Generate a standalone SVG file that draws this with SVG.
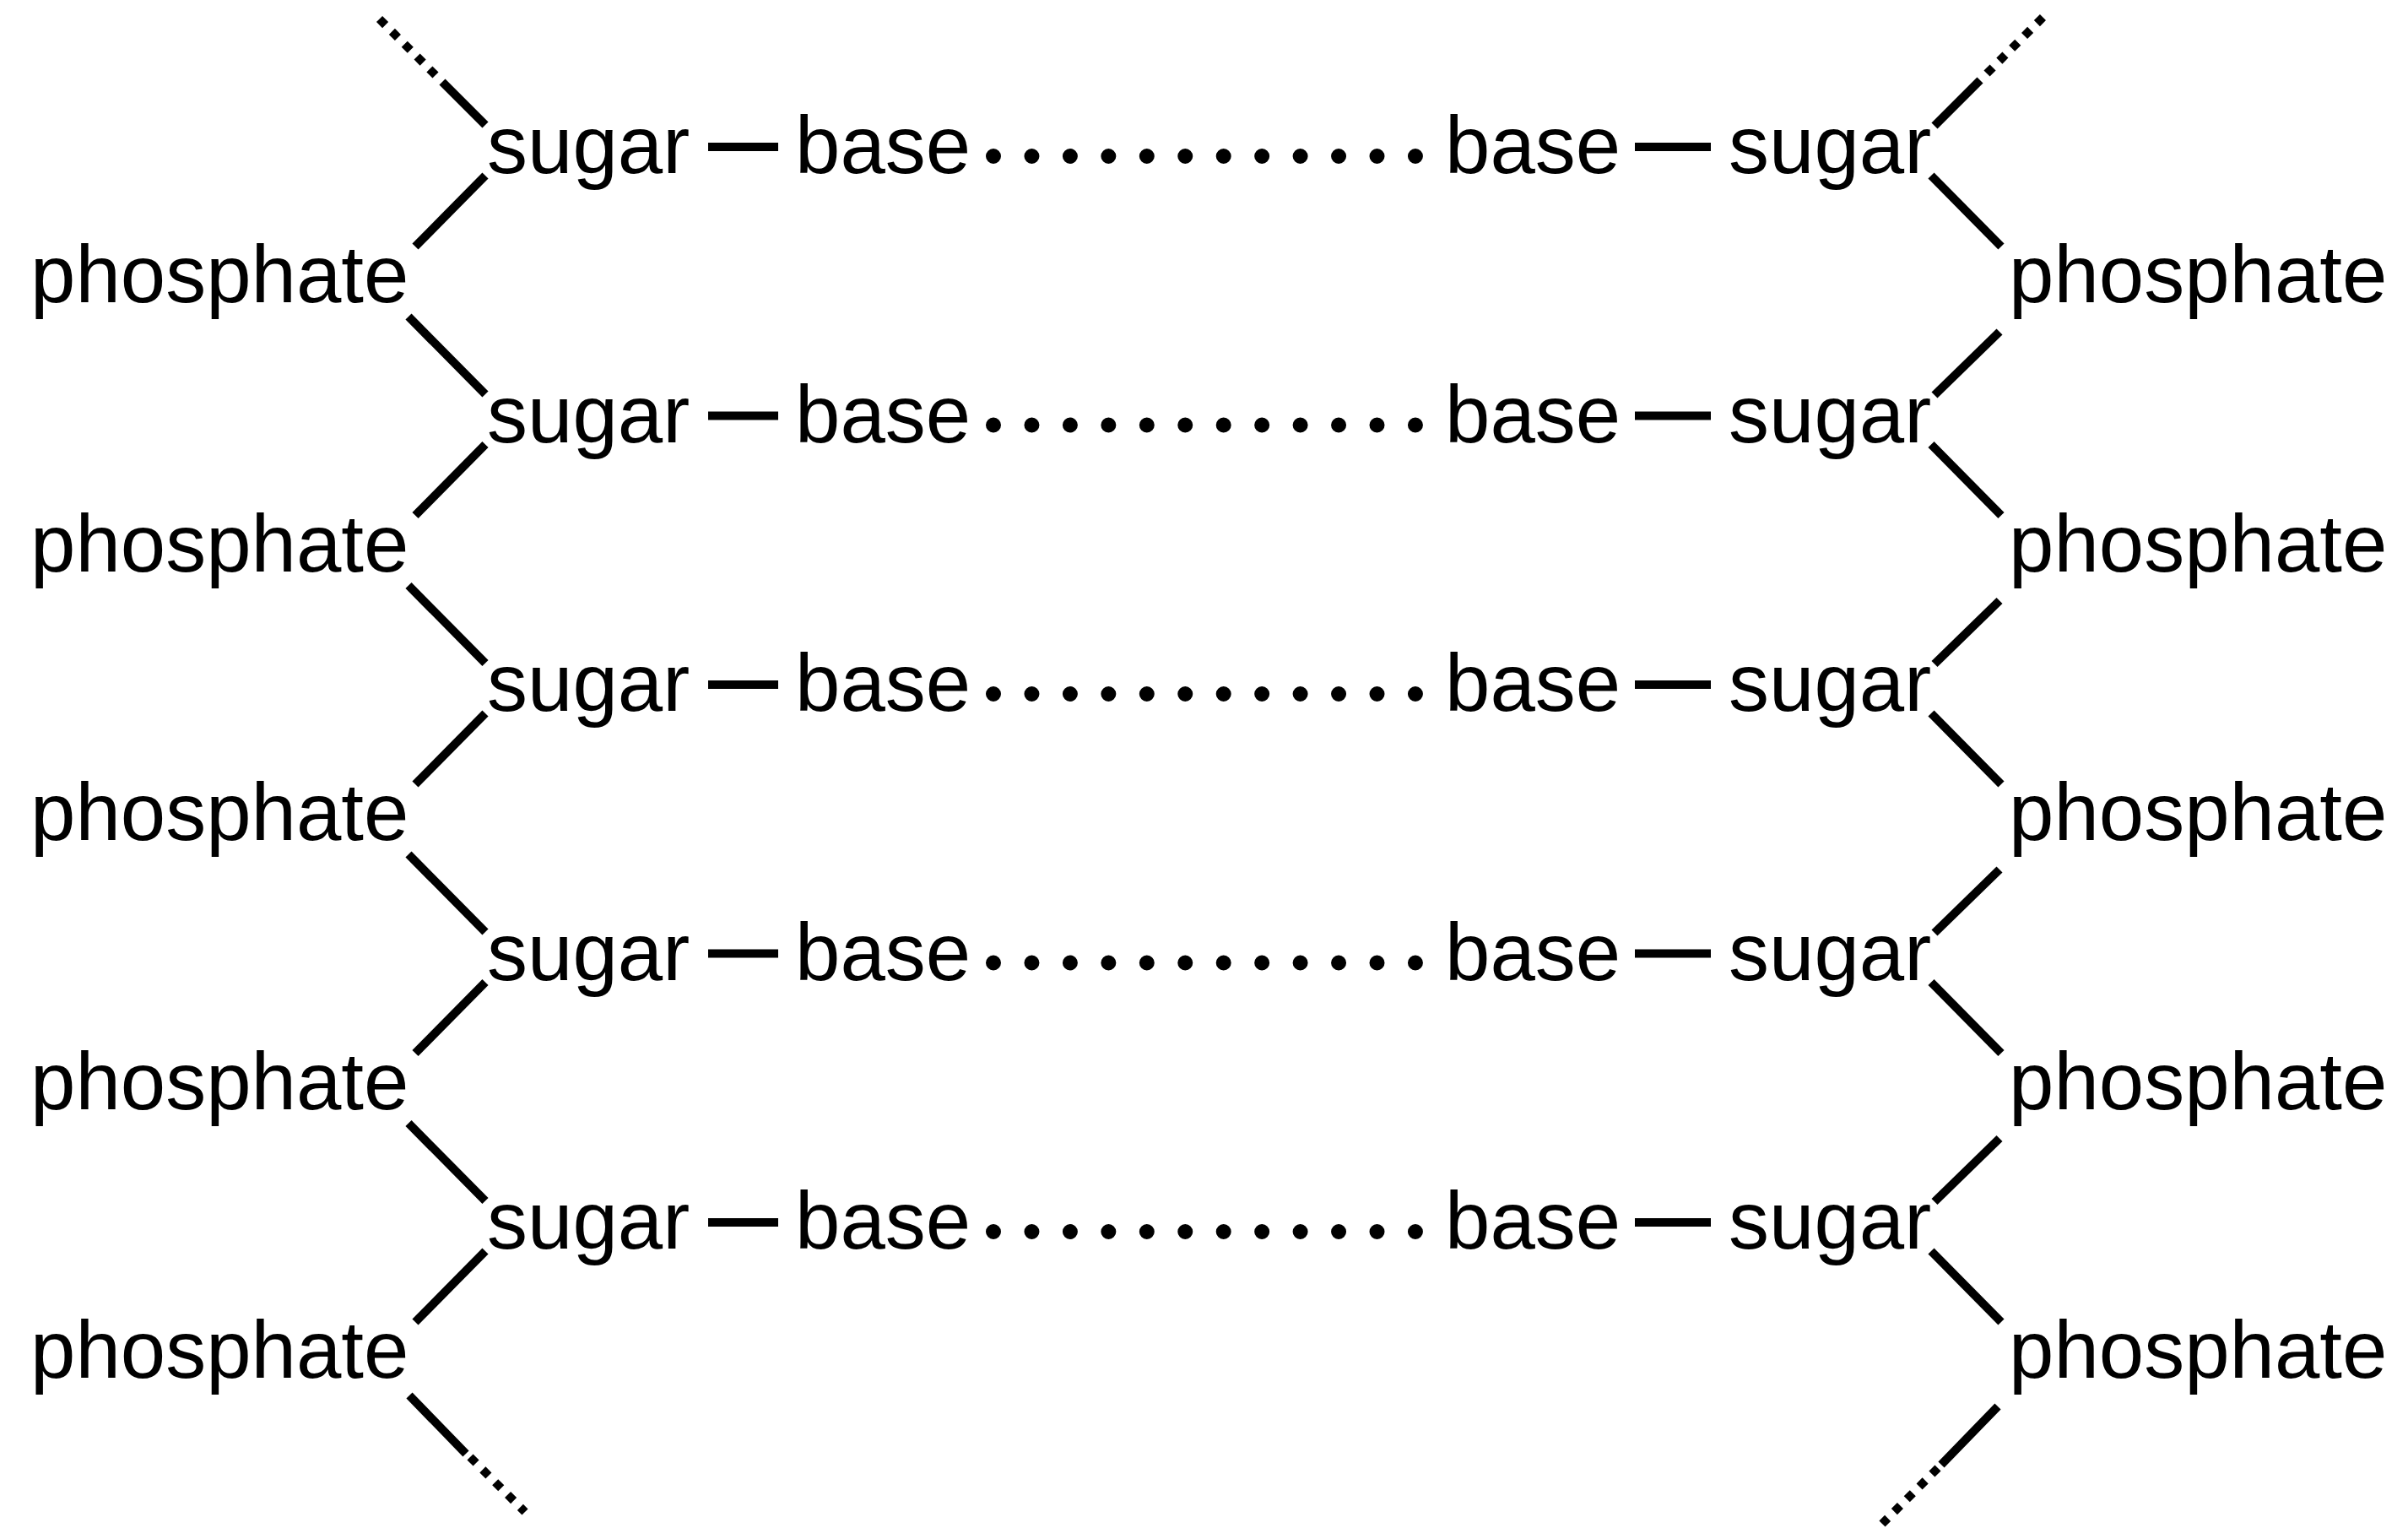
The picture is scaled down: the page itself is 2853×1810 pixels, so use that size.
<svg xmlns="http://www.w3.org/2000/svg" width="2853" height="1810" viewBox="0 0 2853 1810">
<style>
  .t { font-family: "Liberation Sans", Arial, Helvetica, sans-serif; font-size: 96px; fill: #000; }
  .ln { stroke: #000; stroke-width: 10; stroke-linecap: butt; fill: none; }
  .dt { stroke: #000; stroke-width: 10; stroke-linecap: butt; stroke-dasharray: 10 11; fill: none; }
  .hb { stroke: #000; stroke-width: 18; stroke-linecap: round; stroke-dasharray: 0 45.45; fill: none; }
</style>
<rect width="2853" height="1810" fill="#fff"/>
<g id="connectors">
  <!-- left strand -->
  <line class="ln" x1="575" y1="148" x2="524" y2="97"/>
  <line class="dt" x1="516" y1="89" x2="445" y2="18"/>
  <line class="ln" x1="575" y1="208" x2="492" y2="292"/>
  <line class="ln" x1="484" y1="375" x2="575" y2="467"/>
  <line class="ln" x1="575" y1="526.5" x2="492" y2="610.5"/>
  <line class="ln" x1="484" y1="693.5" x2="575" y2="785.5"/>
  <line class="ln" x1="575" y1="845" x2="492" y2="929"/>
  <line class="ln" x1="484" y1="1012" x2="575" y2="1104"/>
  <line class="ln" x1="575" y1="1163.5" x2="492" y2="1247.5"/>
  <line class="ln" x1="484" y1="1330.5" x2="575" y2="1422.5"/>
  <line class="ln" x1="575" y1="1482" x2="492" y2="1566"/>
  <line class="ln" x1="485" y1="1653" x2="552" y2="1722"/>
  <line class="dt" x1="557" y1="1726" x2="622" y2="1791"/>
  <!-- right strand -->
  <line class="ln" x1="2292" y1="149" x2="2346" y2="95"/>
  <line class="dt" x1="2354" y1="87" x2="2425" y2="16"/>
  <line class="ln" x1="2288" y1="208" x2="2371" y2="292"/>
  <line class="ln" x1="2369" y1="393" x2="2292" y2="468"/>
  <line class="ln" x1="2288" y1="526.5" x2="2371" y2="610.5"/>
  <line class="ln" x1="2369" y1="711.5" x2="2292" y2="786.5"/>
  <line class="ln" x1="2288" y1="845" x2="2371" y2="929"/>
  <line class="ln" x1="2369" y1="1030" x2="2292" y2="1105"/>
  <line class="ln" x1="2288" y1="1163.5" x2="2371" y2="1247.5"/>
  <line class="ln" x1="2369" y1="1348.5" x2="2292" y2="1423.5"/>
  <line class="ln" x1="2288" y1="1482" x2="2371" y2="1566"/>
  <line class="ln" x1="2367" y1="1666" x2="2300" y2="1735"/>
  <line class="dt" x1="2296" y1="1739" x2="2230" y2="1805"/>
  <!-- sugar-base bonds and base pairing -->
  <line class="ln" x1="839" y1="174" x2="922" y2="174"/>
  <line class="ln" x1="1937" y1="174" x2="2027" y2="174"/>
  <line class="hb" x1="1177" y1="185" x2="1680" y2="185"/>
  <line class="ln" x1="839" y1="492.5" x2="922" y2="492.5"/>
  <line class="ln" x1="1937" y1="492.5" x2="2027" y2="492.5"/>
  <line class="hb" x1="1177" y1="503.5" x2="1680" y2="503.5"/>
  <line class="ln" x1="839" y1="811" x2="922" y2="811"/>
  <line class="ln" x1="1937" y1="811" x2="2027" y2="811"/>
  <line class="hb" x1="1177" y1="822" x2="1680" y2="822"/>
  <line class="ln" x1="839" y1="1129.5" x2="922" y2="1129.5"/>
  <line class="ln" x1="1937" y1="1129.5" x2="2027" y2="1129.5"/>
  <line class="hb" x1="1177" y1="1140.5" x2="1680" y2="1140.5"/>
  <line class="ln" x1="839" y1="1448" x2="922" y2="1448"/>
  <line class="ln" x1="1937" y1="1448" x2="2027" y2="1448"/>
  <line class="hb" x1="1177" y1="1459" x2="1680" y2="1459"/>
</g>
<g id="left-phosphate-1"><text class="t" x="36" y="358">phosphate</text></g>
<g id="left-phosphate-2"><text class="t" x="36" y="676.5">phosphate</text></g>
<g id="left-phosphate-3"><text class="t" x="36" y="995">phosphate</text></g>
<g id="left-phosphate-4"><text class="t" x="36" y="1313.5">phosphate</text></g>
<g id="left-phosphate-5"><text class="t" x="36" y="1632">phosphate</text></g>
<g id="left-sugar-1"><text class="t" x="577" y="205">sugar</text></g>
<g id="left-sugar-2"><text class="t" x="577" y="523.5">sugar</text></g>
<g id="left-sugar-3"><text class="t" x="577" y="842">sugar</text></g>
<g id="left-sugar-4"><text class="t" x="577" y="1160.5">sugar</text></g>
<g id="left-sugar-5"><text class="t" x="577" y="1479">sugar</text></g>
<g id="left-base-1"><text class="t" x="942" y="205">base</text></g>
<g id="left-base-2"><text class="t" x="942" y="523.5">base</text></g>
<g id="left-base-3"><text class="t" x="942" y="842">base</text></g>
<g id="left-base-4"><text class="t" x="942" y="1160.5">base</text></g>
<g id="left-base-5"><text class="t" x="942" y="1479">base</text></g>
<g id="right-base-1"><text class="t" x="1712" y="205">base</text></g>
<g id="right-base-2"><text class="t" x="1712" y="523.5">base</text></g>
<g id="right-base-3"><text class="t" x="1712" y="842">base</text></g>
<g id="right-base-4"><text class="t" x="1712" y="1160.5">base</text></g>
<g id="right-base-5"><text class="t" x="1712" y="1479">base</text></g>
<g id="right-sugar-1"><text class="t" x="2048" y="205">sugar</text></g>
<g id="right-sugar-2"><text class="t" x="2048" y="523.5">sugar</text></g>
<g id="right-sugar-3"><text class="t" x="2048" y="842">sugar</text></g>
<g id="right-sugar-4"><text class="t" x="2048" y="1160.5">sugar</text></g>
<g id="right-sugar-5"><text class="t" x="2048" y="1479">sugar</text></g>
<g id="right-phosphate-1"><text class="t" x="2380" y="358">phosphate</text></g>
<g id="right-phosphate-2"><text class="t" x="2380" y="676.5">phosphate</text></g>
<g id="right-phosphate-3"><text class="t" x="2380" y="995">phosphate</text></g>
<g id="right-phosphate-4"><text class="t" x="2380" y="1313.5">phosphate</text></g>
<g id="right-phosphate-5"><text class="t" x="2380" y="1632">phosphate</text></g>
</svg>
